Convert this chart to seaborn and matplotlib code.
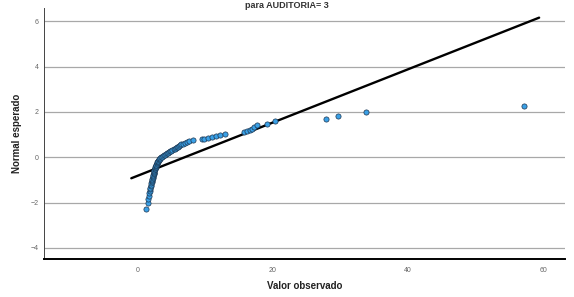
import numpy as np
import pandas as pd
import matplotlib
matplotlib.use("Agg")
import matplotlib.pyplot as plt
import seaborn as sns
from statistics import NormalDist

observed = [
    1.35, 1.55, 1.65, 1.73, 1.80, 1.86, 1.90, 1.95, 2.00, 2.03,
    2.08, 2.12, 2.16, 2.20, 2.24, 2.27, 2.30, 2.34, 2.37, 2.40,
    2.43, 2.46, 2.49, 2.52, 2.54, 2.57, 2.60, 2.63, 2.67, 2.71,
    2.75, 2.79, 2.83, 2.88, 2.93, 2.98, 3.03, 3.08, 3.13, 3.19,
    3.25, 3.32, 3.40, 3.50, 3.62, 3.75, 3.90, 4.05, 4.20, 4.40,
    4.55, 4.75, 4.90, 5.05, 5.20, 5.35, 5.50, 5.65, 5.80, 5.95,
    6.10, 6.30, 6.50, 6.75, 7.00, 7.30, 7.70, 8.20, 9.50, 9.90,
    10.4, 11.0, 11.6, 12.2, 12.9, 15.8, 16.2, 16.6, 17.0, 17.3,
    17.7, 19.1, 20.4, 27.9, 29.7, 33.7, 57.1,
]
title_text = "para AUDITORIA= 3"
x_label = "Valor observado"
y_label = "Normal esperado"
x_ticks = [0, 20, 40, 60]
y_ticks = [-4, -2, 0, 2, 4, 6]

# Q-Q expected normal values (rank / (n+1))
obs = np.sort(np.array(observed))
n = len(obs)
nd = NormalDist()
expected = np.array([nd.inv_cdf((i + 1) / (n + 1)) for i in range(n)])
df = pd.DataFrame({"obs": obs, "exp": expected})

mean = obs.mean()
sd = obs.std(ddof=1)
rng = obs.max() - obs.min()
lx = np.array([obs.min() - 0.04 * rng, obs.max() + 0.04 * rng])
line_df = pd.DataFrame({"x": lx, "y": (lx - mean) / sd})

sns.set_theme(style="white")
plt.rcParams["font.family"] = ["Liberation Sans", "DejaVu Sans"]

fig = plt.figure(figsize=(5.74, 2.97), dpi=100)
ax = fig.add_axes([44 / 574, 1 - 259 / 297, (565 - 44) / 574, (259 - 8) / 297])

ax.set_xlim(-13.77, 63.15)
ax.set_ylim(-4.49, 6.59)
ax.set_yticks(y_ticks)
ax.set_xticks(x_ticks)
ax.yaxis.grid(True, color="#a8a8a8", linewidth=0.9)
ax.xaxis.grid(False)
ax.set_axisbelow(True)

sns.lineplot(data=line_df, x="x", y="y", ax=ax, color="black", linewidth=1.7, zorder=2)
sns.scatterplot(data=df, x="obs", y="exp", ax=ax, s=14, color="#3aa0e6",
                edgecolor="#1c3550", linewidth=0.5, zorder=3)

for s in ["top", "right"]:
    ax.spines[s].set_visible(False)
ax.spines["left"].set_color("#444444")
ax.spines["left"].set_linewidth(0.7)
ax.spines["bottom"].set_color("black")
ax.spines["bottom"].set_linewidth(1.4)

ax.tick_params(axis="both", length=0, labelsize=5, labelcolor="#666666", pad=4)
ax.tick_params(axis="x", pad=6)
ax.set_xlabel(x_label, fontsize=7, fontweight="bold", color="#222222", labelpad=5)
ax.set_ylabel(y_label, fontsize=7, fontweight="bold", color="#222222", labelpad=6)

fig.text(0.5, 1 - 5 / 297, title_text, ha="center", va="center", fontsize=6.5,
         fontweight="bold", color="#333333")

fig.savefig("out.png", dpi=100)
